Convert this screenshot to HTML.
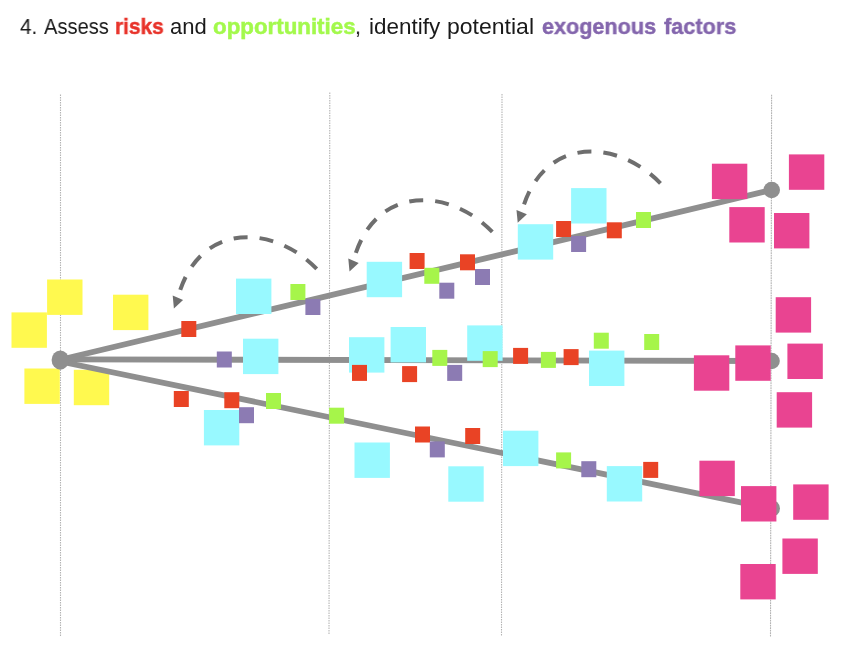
<!DOCTYPE html>
<html><head><meta charset="utf-8"><style>
html,body{margin:0;padding:0;background:#fff;width:862px;height:658px;overflow:hidden}
.t{position:absolute;top:0;left:0;width:862px;height:658px}
.w{position:absolute;font-family:"Liberation Sans",sans-serif;font-size:22px;line-height:1;white-space:nowrap;color:#1a1a1a;transform-origin:0 0}
.b{font-weight:bold;-webkit-text-stroke:0.45px currentColor}
.w{will-change:transform}
</style></head><body>
<div class="w" style="left:20.30px;top:15.5px;color:#1a1a1a;transform:scaleX(0.9412)">4.</div>
<div class="w" style="left:43.60px;top:15.5px;color:#1a1a1a;transform:scaleX(0.9127)">Assess</div>
<div class="w b" style="left:114.65px;top:15.5px;color:#e8332a;transform:scaleX(0.9460)">risks</div>
<div class="w" style="left:169.50px;top:15.5px;color:#1a1a1a;transform:scaleX(1.0000)">and</div>
<div class="w b" style="left:213.10px;top:15.5px;color:#a3f94c;transform:scaleX(1.0143)">opportunities</div>
<div class="w" style="left:355.45px;top:15.5px;color:#1a1a1a;transform:scaleX(0.9500)">,</div>
<div class="w" style="left:368.70px;top:15.5px;color:#1a1a1a;transform:scaleX(1.0200)">identify</div>
<div class="w" style="left:446.95px;top:15.5px;color:#1a1a1a;transform:scaleX(1.0463)">potential</div>
<div class="w b" style="left:542.40px;top:15.5px;color:#8466ad;transform:scaleX(0.9819)">exogenous</div>
<div class="w b" style="left:663.80px;top:15.5px;color:#8466ad;transform:scaleX(0.9877)">factors</div>

<svg class="t" width="862" height="658" viewBox="0 0 862 658"><line x1="60.5" y1="94.5" x2="60.5" y2="637" stroke="#b4b4b4" stroke-width="1.1" stroke-dasharray="1.6 0.9"/><line x1="329.8" y1="92.5" x2="329.0" y2="634.2" stroke="#b4b4b4" stroke-width="1.1" stroke-dasharray="1.6 0.9"/><line x1="502.0" y1="94" x2="501.5" y2="636" stroke="#b4b4b4" stroke-width="1.1" stroke-dasharray="1.6 0.9"/><line x1="771.6" y1="94.8" x2="770.5" y2="636.7" stroke="#b4b4b4" stroke-width="1.1" stroke-dasharray="1.6 0.9"/><g transform="translate(0,0)"><path d="M316.7,268.9 C274.56,225.0 198.96,219.7 177.85,297.75" fill="none" stroke="#6e6e6e" stroke-width="4" stroke-dasharray="14 12"/><polygon points="172.7,295.5 183.1,299.9 173.9,308.4" fill="#6e6e6e"/></g><g transform="translate(175.6,-37)"><path d="M316.7,268.9 C274.56,225.0 198.96,219.7 177.85,297.75" fill="none" stroke="#6e6e6e" stroke-width="4" stroke-dasharray="14 12"/><polygon points="172.7,295.5 183.1,299.9 173.9,308.4" fill="#6e6e6e"/></g><g transform="translate(343.8,-85.6)"><path d="M316.7,268.9 C274.56,225.0 198.96,219.7 177.85,297.75" fill="none" stroke="#6e6e6e" stroke-width="4" stroke-dasharray="14 12"/><polygon points="172.7,295.5 183.1,299.9 173.9,308.4" fill="#6e6e6e"/></g><rect x="47.1" y="279.5" width="35.4" height="35.4" fill="#fff94f"/><rect x="11.5" y="312.4" width="35.4" height="35.4" fill="#fff94f"/><rect x="24.4" y="368.5" width="35.4" height="35.4" fill="#fff94f"/><rect x="73.8" y="369.8" width="35.4" height="35.4" fill="#fff94f"/><rect x="113" y="294.7" width="35.4" height="35.4" fill="#fff94f"/><line x1="60.3" y1="359.8" x2="771.7" y2="190.0" stroke="#8f8f8f" stroke-width="5.8"/><circle cx="771.7" cy="190.0" r="8.3" fill="#8f8f8f"/><line x1="60.3" y1="359.3" x2="771.5" y2="361.0" stroke="#8f8f8f" stroke-width="5.8"/><circle cx="771.5" cy="361.0" r="8.3" fill="#8f8f8f"/><line x1="60.3" y1="361.5" x2="771.7" y2="508.8" stroke="#8f8f8f" stroke-width="5.8"/><circle cx="771.7" cy="508.4" r="8.3" fill="#8f8f8f"/><ellipse cx="60.3" cy="360.05" rx="8.7" ry="9.6" fill="#8f8f8f"/><rect x="236" y="278.6" width="35.4" height="35.4" fill="#98f9ff"/><rect x="243" y="338.7" width="35.4" height="35.4" fill="#98f9ff"/><rect x="203.9" y="410" width="35.4" height="35.4" fill="#98f9ff"/><rect x="366.7" y="261.8" width="35.4" height="35.4" fill="#98f9ff"/><rect x="517.8" y="224.2" width="35.4" height="35.4" fill="#98f9ff"/><rect x="571.1" y="188.1" width="35.4" height="35.4" fill="#98f9ff"/><rect x="349" y="337.2" width="35.4" height="35.4" fill="#98f9ff"/><rect x="390.6" y="327" width="35.4" height="35.4" fill="#98f9ff"/><rect x="467.2" y="325.4" width="35.4" height="35.4" fill="#98f9ff"/><rect x="589" y="350.6" width="35.4" height="35.4" fill="#98f9ff"/><rect x="354.5" y="442.5" width="35.4" height="35.4" fill="#98f9ff"/><rect x="448.3" y="466.3" width="35.4" height="35.4" fill="#98f9ff"/><rect x="503" y="430.7" width="35.4" height="35.4" fill="#98f9ff"/><rect x="606.8" y="466.1" width="35.4" height="35.4" fill="#98f9ff"/><rect x="711.9" y="163.7" width="35.4" height="35.4" fill="#e94491"/><rect x="788.9" y="154.4" width="35.4" height="35.4" fill="#e94491"/><rect x="729.3" y="207.1" width="35.4" height="35.4" fill="#e94491"/><rect x="774" y="213" width="35.4" height="35.4" fill="#e94491"/><rect x="693.9" y="355.3" width="35.4" height="35.4" fill="#e94491"/><rect x="735.3" y="345.4" width="35.4" height="35.4" fill="#e94491"/><rect x="775.7" y="297.2" width="35.4" height="35.4" fill="#e94491"/><rect x="787.4" y="343.6" width="35.4" height="35.4" fill="#e94491"/><rect x="776.7" y="392.2" width="35.4" height="35.4" fill="#e94491"/><rect x="699.4" y="460.7" width="35.4" height="35.4" fill="#e94491"/><rect x="741" y="486.1" width="35.4" height="35.4" fill="#e94491"/><rect x="793.2" y="484.4" width="35.4" height="35.4" fill="#e94491"/><rect x="782.4" y="538.5" width="35.4" height="35.4" fill="#e94491"/><rect x="740.3" y="564" width="35.4" height="35.4" fill="#e94491"/><rect x="181.3" y="321" width="15.0" height="16.0" fill="#e94325"/><rect x="173.8" y="391" width="15.0" height="16.0" fill="#e94325"/><rect x="224.3" y="392.2" width="15.0" height="16.0" fill="#e94325"/><rect x="409.6" y="253" width="15.0" height="16.0" fill="#e94325"/><rect x="460" y="254.3" width="15.0" height="16.0" fill="#e94325"/><rect x="556.1" y="221" width="15.0" height="16.0" fill="#e94325"/><rect x="606.8" y="222.3" width="15.0" height="16.0" fill="#e94325"/><rect x="352" y="364.9" width="15.0" height="16.0" fill="#e94325"/><rect x="402.1" y="366.1" width="15.0" height="16.0" fill="#e94325"/><rect x="513.1" y="347.9" width="15.0" height="16.0" fill="#e94325"/><rect x="563.6" y="349.1" width="15.0" height="16.0" fill="#e94325"/><rect x="415" y="426.5" width="15.0" height="16.0" fill="#e94325"/><rect x="465.2" y="428" width="15.0" height="16.0" fill="#e94325"/><rect x="643.2" y="461.9" width="15.0" height="16.0" fill="#e94325"/><rect x="290.4" y="284" width="15.0" height="16.0" fill="#a6f54a"/><rect x="266" y="393" width="15.0" height="16.0" fill="#a6f54a"/><rect x="329.1" y="407.7" width="15.0" height="16.0" fill="#a6f54a"/><rect x="424.3" y="267.8" width="15.0" height="16.0" fill="#a6f54a"/><rect x="636" y="212" width="15.0" height="16.0" fill="#a6f54a"/><rect x="432.3" y="349.9" width="15.0" height="16.0" fill="#a6f54a"/><rect x="482.7" y="351.1" width="15.0" height="16.0" fill="#a6f54a"/><rect x="540.9" y="351.9" width="15.0" height="16.0" fill="#a6f54a"/><rect x="593.8" y="332.7" width="15.0" height="16.0" fill="#a6f54a"/><rect x="644.2" y="334" width="15.0" height="16.0" fill="#a6f54a"/><rect x="556.1" y="452.4" width="15.0" height="16.0" fill="#a6f54a"/><rect x="305.4" y="299" width="15.0" height="16.0" fill="#8c7bb3"/><rect x="216.8" y="351.5" width="15.0" height="16.0" fill="#8c7bb3"/><rect x="239" y="407.2" width="15.0" height="16.0" fill="#8c7bb3"/><rect x="439.3" y="282.7" width="15.0" height="16.0" fill="#8c7bb3"/><rect x="475" y="269" width="15.0" height="16.0" fill="#8c7bb3"/><rect x="571.1" y="236" width="15.0" height="16.0" fill="#8c7bb3"/><rect x="447.2" y="364.9" width="15.0" height="16.0" fill="#8c7bb3"/><rect x="429.8" y="441.4" width="15.0" height="16.0" fill="#8c7bb3"/><rect x="581.3" y="461.2" width="15.0" height="16.0" fill="#8c7bb3"/></svg>
</body></html>
